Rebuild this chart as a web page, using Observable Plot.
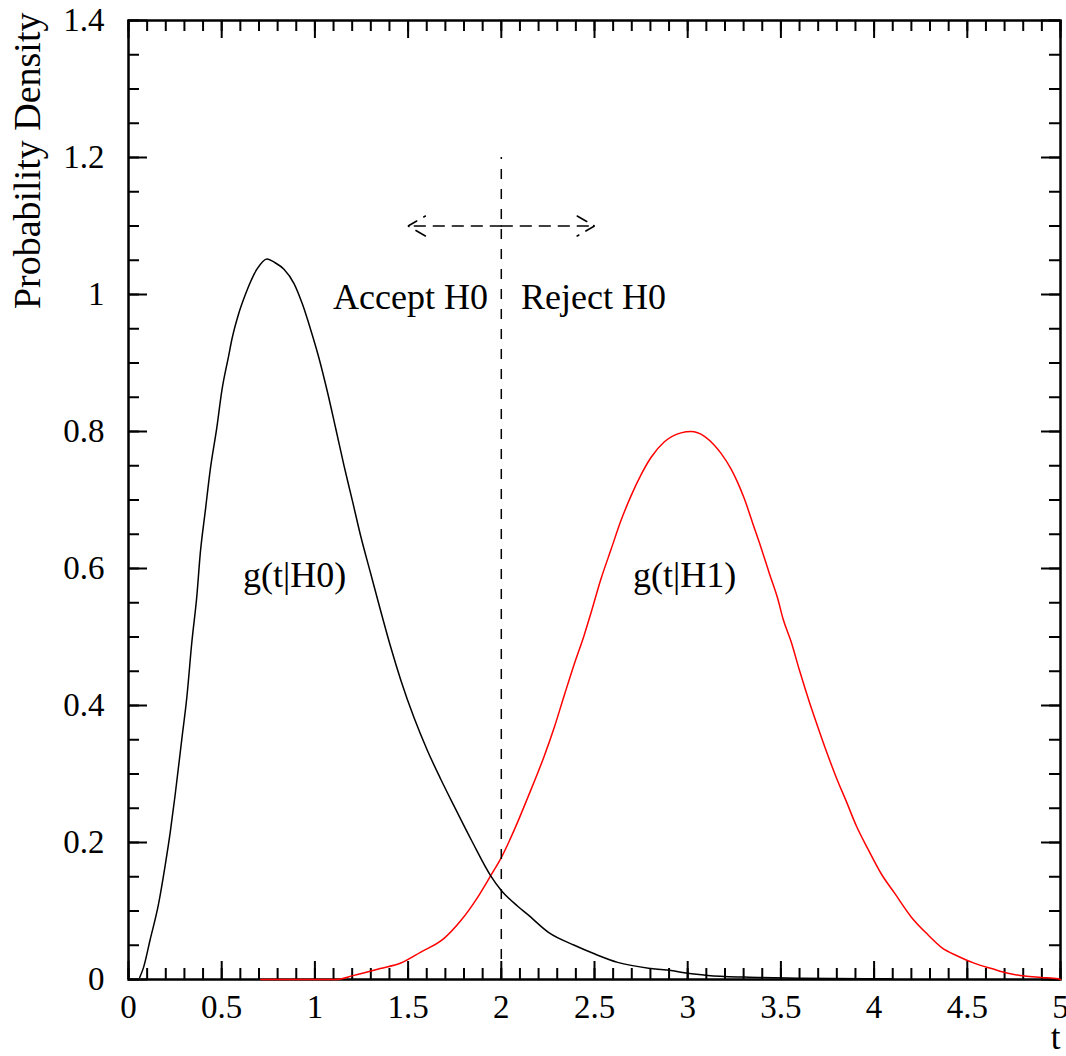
<!DOCTYPE html>
<html><head><meta charset="utf-8">
<script src="https://cdn.jsdelivr.net/npm/d3@7"></script>
<script src="https://cdn.jsdelivr.net/npm/@observablehq/plot@0.6"></script>
<style>body{margin:0;background:#fff} svg{display:block}</style>
</head><body><div id="chart"></div>
<script>
// g(t|H0)
const h0T = [0.06,0.08,0.116,0.161,0.197,0.224,0.25,0.286,0.313,0.34,0.367,0.385,0.412,0.439,0.474,0.501,0.537,0.555,0.591,0.627,0.689,0.743,0.788,0.834,0.888,0.933,0.977,1.022,1.067,1.112,1.157,1.201,1.246,1.3,1.353,1.407,1.461,1.532,1.604,1.676,1.747,1.846,1.944,2.0,2.088,2.141,2.257,2.392,2.499,2.624,2.803,2.911,3.0,3.108,3.305,3.6,4.1];
const h0V = [0.003,0.017,0.058,0.11,0.167,0.215,0.269,0.351,0.412,0.493,0.561,0.622,0.684,0.745,0.806,0.86,0.91,0.935,0.972,1.0,1.037,1.052,1.046,1.037,1.016,0.986,0.949,0.907,0.858,0.804,0.749,0.699,0.647,0.592,0.538,0.485,0.437,0.382,0.334,0.292,0.253,0.2,0.151,0.13,0.107,0.095,0.068,0.05,0.0375,0.025,0.016,0.013,0.009,0.006,0.0035,0.002,0.001];
// g(t|H1)
const h1T = [0.71,1.11,1.21,1.35,1.461,1.568,1.693,1.783,1.873,1.944,2.0,2.069,2.141,2.23,2.284,2.338,2.392,2.445,2.481,2.535,2.589,2.642,2.696,2.75,2.803,2.875,2.964,3.018,3.09,3.143,3.179,3.233,3.269,3.305,3.35,3.394,3.439,3.484,3.511,3.555,3.6,3.654,3.699,3.743,3.797,3.851,3.905,3.968,4.039,4.11,4.2,4.29,4.361,4.45,4.54,4.63,4.719,4.808,4.897,4.987,5.0];
const h1V = [0,0,0.006,0.016,0.024,0.040,0.060,0.086,0.12,0.152,0.178,0.218,0.265,0.326,0.368,0.415,0.461,0.503,0.535,0.585,0.628,0.67,0.706,0.737,0.762,0.785,0.798,0.8,0.793,0.78,0.768,0.745,0.725,0.701,0.665,0.63,0.592,0.555,0.527,0.493,0.451,0.404,0.368,0.334,0.295,0.26,0.224,0.19,0.154,0.126,0.091,0.065,0.047,0.034,0.0235,0.016,0.009,0.005,0.003,0.001,0];

// cut and arrows
const cutT = [2.0];
const cutTop = [1.2];
const arrowFrom = [2.0, 2.0];
const arrowTo = [1.5, 2.5];
const arrowY = [1.1, 1.1];

// annotations
const annoText = ["Accept H0", "Reject H0", "g(t|H0)", "g(t|H1)"];
const annoX = [1.513, 2.495, 0.891, 2.983];
const annoY = [0.995, 0.995, 0.59, 0.59];

// ticks
const xMajor = [0, 0.5, 1, 1.5, 2, 2.5, 3, 3.5, 4, 4.5, 5];
const xMajorLabels = ["0", "0.5", "1", "1.5", "2", "2.5", "3", "3.5", "4", "4.5", "5"];
const xMinor = d3.range(0, 51).map(i => i / 10);
const yMajor = [0, 0.2, 0.4, 0.6, 0.8, 1.0, 1.2, 1.4];
const yMajorLabels = ["0", "0.2", "0.4", "0.6", "0.8", "1", "1.2", "1.4"];
const yMinor = d3.range(0, 29).map(i => i / 20);

const W = 1066, H = 1056, mL = 128, mR = 6, mT = 20, mB = 77;
const FW = W - mL - mR, FH = H - mT - mB;
const font = "'Liberation Serif', 'Times New Roman', serif";
const xLab = new Map(xMajor.map((d, i) => [d, xMajorLabels[i]]));
const yLab = new Map(yMajor.map((d, i) => [d, yMajorLabels[i]]));
const h0 = h0T.map((t, i) => ({t, v: h0V[i]}));
const h1 = h1T.map((t, i) => ({t, v: h1V[i]}));

const tk = {stroke: "black", strokeWidth: 2};
const chart = Plot.plot({
  width: W, height: H,
  marginLeft: mL, marginRight: mR, marginTop: mT, marginBottom: mB,
  style: {fontFamily: font, background: "white", color: "black"},
  x: {domain: [0, 5]},
  y: {domain: [0, 1.4]},
  marks: [
    Plot.axisX(xMajor, {tickSize: 0, tickPadding: 15, fontSize: 33, tickFormat: d => xLab.get(d), label: null}),
    Plot.axisY(yMajor, {tickSize: 0, tickPadding: 24, fontSize: 33, tickFormat: d => yLab.get(d), label: null}),
    // minor ticks
    Plot.ruleX(xMinor, {x: d => d, insetTop: FH - 11, ...tk}),
    Plot.ruleX(xMinor, {x: d => d, insetBottom: FH - 11, ...tk}),
    Plot.ruleY(yMinor, {y: d => d, insetRight: FW - 11, ...tk}),
    Plot.ruleY(yMinor, {y: d => d, insetLeft: FW - 11, ...tk}),
    // major ticks
    Plot.ruleX(xMajor, {x: d => d, insetTop: FH - 18, ...tk}),
    Plot.ruleX(xMajor, {x: d => d, insetBottom: FH - 18, ...tk}),
    Plot.ruleY(yMajor, {y: d => d, insetRight: FW - 19, ...tk}),
    Plot.ruleY(yMajor, {y: d => d, insetLeft: FW - 19, ...tk}),
    Plot.frame({stroke: "black", strokeWidth: 2.5}),
    // curves
    Plot.line(h1, {x: "t", y: "v", stroke: "#ff0000", strokeWidth: 1.5, curve: "monotone-x"}),
    Plot.line(h0, {x: "t", y: "v", stroke: "black", strokeWidth: 1.5, curve: "monotone-x"}),
    // cut line
    Plot.ruleX(cutT, {x: d => d, y1: 0, y2: (d, i) => cutTop[i], stroke: "black", strokeWidth: 1.5, strokeDasharray: "10,10"}),
    Plot.arrow(arrowTo, {x1: (d, i) => arrowFrom[i], y1: (d, i) => arrowY[i], x2: d => d, y2: (d, i) => arrowY[i],
      stroke: "black", strokeWidth: 1.5, strokeDasharray: "11,8", headLength: 20, headAngle: 60}),
    // annotations
    Plot.text(annoText, {x: annoX, y: annoY, text: d => d, fontSize: 36, fill: "black"}),
    Plot.text(["Probability Density"], {frameAnchor: "top-left", rotate: -90, textAnchor: "end", dx: -115, dy: -8, fontSize: 38, fill: "black"}),
    Plot.text(["t"], {frameAnchor: "bottom-right", textAnchor: "end", dy: 69, fontSize: 35, fill: "black"})
  ]
});
document.getElementById("chart").appendChild(chart);
</script>
</body></html>
